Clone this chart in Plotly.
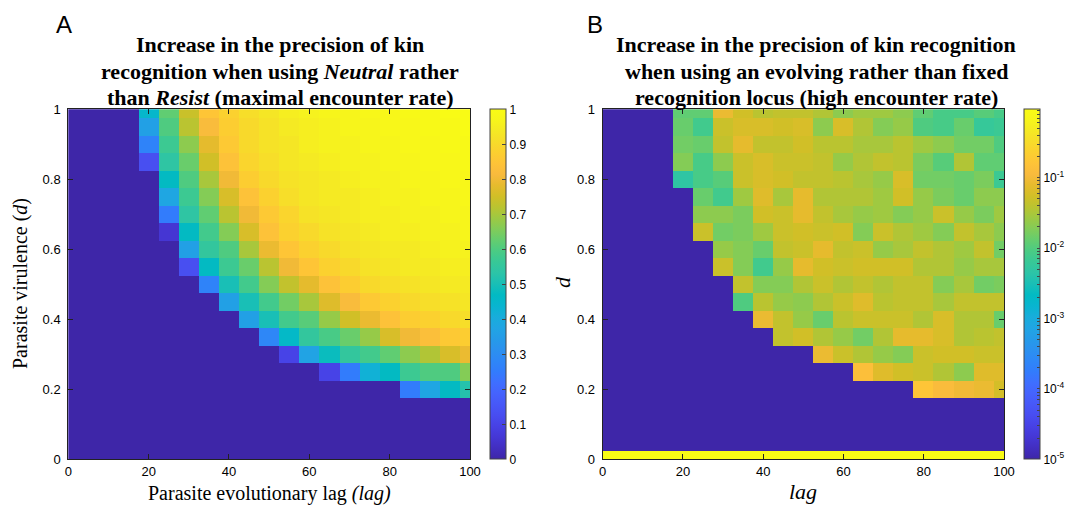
import math
import plotly.graph_objects as go

W, H = 1075, 510
OFF = 8  # page body margin of the browser (px)

# ---------------- data ----------------
LAG = [0, 5, 10, 15, 20, 25, 30, 35, 40, 45, 50, 55, 60, 65, 70, 75, 80, 85, 90, 95, 100]
D_TOP_DOWN = [1.0, 0.95, 0.9, 0.85, 0.8, 0.75, 0.7, 0.65, 0.6, 0.55, 0.5,
              0.45, 0.4, 0.35, 0.3, 0.25, 0.2, 0.15, 0.1, 0.05, 0.0]

# Panel A: increase in precision (Neutral vs Resist), rows from d=1 down to d=0, columns lag 0..100
A_rows = [
    [0, 0, 0, 0, 0.45, 0.62, 0.74, 0.85, 0.88, 0.91, 0.93, 0.95, 0.96, 0.97, 0.97, 0.98, 0.98, 0.99, 0.99, 1.00, 1.00],
    [0, 0, 0, 0, 0.36, 0.60, 0.72, 0.82, 0.87, 0.90, 0.92, 0.94, 0.95, 0.96, 0.97, 0.97, 0.98, 0.98, 0.99, 0.99, 1.00],
    [0, 0, 0, 0, 0.27, 0.57, 0.67, 0.78, 0.86, 0.90, 0.92, 0.93, 0.95, 0.96, 0.96, 0.97, 0.97, 0.98, 0.98, 0.99, 0.99],
    [0, 0, 0, 0, 0.13, 0.54, 0.63, 0.75, 0.84, 0.89, 0.91, 0.93, 0.94, 0.95, 0.96, 0.96, 0.97, 0.97, 0.98, 0.98, 0.99],
    [0, 0, 0, 0, 0, 0.47, 0.60, 0.70, 0.80, 0.87, 0.90, 0.92, 0.93, 0.94, 0.95, 0.96, 0.96, 0.97, 0.97, 0.98, 0.98],
    [0, 0, 0, 0, 0, 0.38, 0.57, 0.66, 0.76, 0.84, 0.88, 0.91, 0.93, 0.94, 0.94, 0.95, 0.96, 0.96, 0.97, 0.97, 0.98],
    [0, 0, 0, 0, 0, 0.25, 0.54, 0.62, 0.72, 0.80, 0.86, 0.89, 0.92, 0.93, 0.94, 0.95, 0.95, 0.96, 0.96, 0.97, 0.97],
    [0, 0, 0, 0, 0, 0.06, 0.47, 0.58, 0.66, 0.76, 0.84, 0.88, 0.90, 0.92, 0.93, 0.94, 0.95, 0.95, 0.96, 0.96, 0.97],
    [0, 0, 0, 0, 0, 0, 0.36, 0.55, 0.60, 0.70, 0.79, 0.85, 0.88, 0.90, 0.92, 0.93, 0.94, 0.94, 0.95, 0.96, 0.96],
    [0, 0, 0, 0, 0, 0, 0.13, 0.47, 0.57, 0.63, 0.72, 0.80, 0.85, 0.88, 0.90, 0.92, 0.93, 0.94, 0.94, 0.95, 0.95],
    [0, 0, 0, 0, 0, 0, 0, 0.27, 0.50, 0.58, 0.66, 0.73, 0.78, 0.84, 0.87, 0.90, 0.91, 0.92, 0.93, 0.94, 0.94],
    [0, 0, 0, 0, 0, 0, 0, 0, 0.36, 0.50, 0.58, 0.64, 0.70, 0.77, 0.82, 0.86, 0.88, 0.90, 0.91, 0.92, 0.93],
    [0, 0, 0, 0, 0, 0, 0, 0, 0, 0.36, 0.50, 0.58, 0.61, 0.68, 0.75, 0.79, 0.84, 0.87, 0.88, 0.90, 0.91],
    [0, 0, 0, 0, 0, 0, 0, 0, 0, 0, 0.28, 0.46, 0.55, 0.59, 0.63, 0.68, 0.76, 0.80, 0.83, 0.86, 0.87],
    [0, 0, 0, 0, 0, 0, 0, 0, 0, 0, 0, 0.10, 0.37, 0.48, 0.55, 0.58, 0.62, 0.67, 0.71, 0.76, 0.79],
    [0, 0, 0, 0, 0, 0, 0, 0, 0, 0, 0, 0, 0, 0.10, 0.25, 0.42, 0.47, 0.57, 0.60, 0.60, 0.66],
    [0, 0, 0, 0, 0, 0, 0, 0, 0, 0, 0, 0, 0, 0, 0, 0, 0, 0.25, 0.38, 0.47, 0.52],
    [0] * 21,
    [0] * 21,
    [0] * 21,
    [0] * 21,
]

# Panel B: log10 of increase in precision (evolving vs fixed locus), rows d=1 -> d=0
N = -5.0  # floor of colour scale (1e-5)
B_log10_rows = [
    [N, N, N, N, -1.92, -1.92, -1.07, -1.27, -1.42, -1.37, -1.37, -1.47, -1.67, -1.57, -1.57, -1.67, -1.92, -2.07, -2.07, -1.97, -2.07],
    [N, N, N, N, -1.87, -2.12, -1.32, -1.22, -1.22, -1.27, -1.22, -1.67, -1.22, -1.47, -1.72, -1.62, -2.02, -2.07, -1.87, -2.22, -2.17],
    [N, N, N, N, -1.82, -1.87, -1.37, -1.12, -1.37, -1.37, -1.27, -1.42, -1.42, -1.52, -1.52, -1.42, -1.57, -1.67, -1.82, -1.82, -2.02],
    [N, N, N, N, -1.72, -2.07, -1.67, -1.32, -1.22, -1.32, -1.32, -1.37, -1.62, -1.47, -1.37, -1.42, -1.77, -1.97, -1.47, -1.92, -1.92],
    [N, N, N, N, -2.32, -2.07, -1.97, -1.32, -1.22, -1.27, -1.37, -1.37, -1.42, -1.52, -1.62, -1.22, -1.82, -1.82, -1.87, -1.77, -2.17],
    [N, N, N, N, N, -1.87, -2.12, -1.57, -1.17, -1.52, -1.12, -1.47, -1.47, -1.47, -1.57, -1.27, -1.62, -1.77, -1.87, -1.67, -1.67],
    [N, N, N, N, N, -1.67, -1.67, -1.77, -1.27, -1.32, -1.12, -1.37, -1.52, -1.62, -1.57, -1.72, -1.62, -1.32, -1.62, -1.77, -1.57],
    [N, N, N, N, N, -1.32, -1.82, -1.77, -1.57, -1.32, -1.27, -1.32, -1.27, -1.72, -1.32, -1.47, -1.57, -1.72, -1.37, -1.52, -1.67],
    [N, N, N, N, N, N, -1.62, -1.72, -1.87, -1.37, -1.32, -1.12, -1.37, -1.32, -1.62, -1.52, -1.37, -1.47, -1.57, -1.37, -1.82],
    [N, N, N, N, N, N, -1.32, -1.72, -2.12, -1.62, -1.12, -1.27, -1.32, -1.27, -1.27, -1.27, -1.47, -1.47, -1.62, -1.52, -1.52],
    [N, N, N, N, N, N, N, -1.37, -1.72, -1.72, -1.47, -1.32, -1.47, -1.37, -1.47, -1.37, -1.37, -1.72, -1.52, -1.82, -1.77],
    [N, N, N, N, N, N, N, -2.02, -1.42, -1.62, -1.67, -1.47, -1.32, -1.17, -1.42, -1.37, -1.37, -1.52, -1.37, -1.37, -1.37],
    [N, N, N, N, N, N, N, N, -1.07, -1.37, -1.62, -1.87, -1.42, -1.32, -1.32, -1.32, -1.47, -1.22, -1.47, -1.47, -1.87],
    [N, N, N, N, N, N, N, N, N, -1.37, -1.27, -1.47, -1.62, -1.82, -1.47, -1.12, -1.12, -1.22, -1.47, -1.42, -1.37],
    [N, N, N, N, N, N, N, N, N, N, N, -1.07, -1.32, -1.47, -1.62, -1.72, -1.32, -1.27, -1.27, -1.32, -1.32],
    [N, N, N, N, N, N, N, N, N, N, N, N, N, -0.87, -1.17, -1.27, -1.32, -1.47, -1.67, -1.17, -1.17],
    [N, N, N, N, N, N, N, N, N, N, N, N, N, N, N, N, -0.78, -0.92, -1.02, -1.07, -1.25],
    [N] * 21,
    [N] * 21,
    [N] * 21,
    [-0.03] * 21,
]

A_CBAR_TICKS = [0, 0.1, 0.2, 0.3, 0.4, 0.5, 0.6, 0.7, 0.8, 0.9, 1]
B_CBAR_EXPONENTS = [-5, -4, -3, -2, -1]

TITLE_A = ["Increase in the precision of kin",
           "recognition when using <i>Neutral</i> rather",
           "than <i>Resist</i> (maximal encounter rate)"]
TITLE_B = ["Increase in the precision of kin recognition",
           "when using an evolving rather than fixed",
           "recognition locus (high encounter rate)"]

# ---------------- style ----------------
PARULA = [
    [0.2422, 0.1504, 0.6603], [0.2578, 0.1818, 0.7511], [0.2706, 0.2147, 0.8364],
    [0.2783, 0.2559, 0.8991], [0.2813, 0.3006, 0.9414], [0.2795, 0.3447, 0.9717],
    [0.2699, 0.3892, 0.9906], [0.2440, 0.4358, 0.9988], [0.1963, 0.4847, 0.9892],
    [0.1786, 0.5289, 0.9682], [0.1687, 0.5703, 0.9359], [0.1460, 0.6091, 0.9079],
    [0.1248, 0.6459, 0.8883], [0.0952, 0.6798, 0.8598], [0.0297, 0.7082, 0.8163],
    [0.0067, 0.7312, 0.7660], [0.0964, 0.7500, 0.7120], [0.1717, 0.7670, 0.6554],
    [0.2161, 0.7843, 0.5923], [0.2906, 0.7973, 0.5188], [0.3909, 0.8029, 0.4354],
    [0.5044, 0.7993, 0.3480], [0.6174, 0.7876, 0.2612], [0.7242, 0.7698, 0.1910],
    [0.8203, 0.7498, 0.1535], [0.9035, 0.7330, 0.1774], [0.9728, 0.7298, 0.2394],
    [0.9970, 0.7659, 0.2199], [0.9892, 0.8136, 0.1885], [0.9676, 0.8639, 0.1643],
    [0.9597, 0.9135, 0.1423], [0.9691, 0.9606, 0.1064], [0.9769, 0.9839, 0.0805],
]
n = len(PARULA)
colorscale = [[i / (n - 1), "rgb(%d,%d,%d)" % tuple(round(c * 255) for c in rgb)]
              for i, rgb in enumerate(PARULA)]

SANS = "Liberation Sans, Arial, sans-serif"
SERIF = "Liberation Serif, Times New Roman, serif"

x_lag = LAG
y_d = D_TOP_DOWN[::-1]
zA = A_rows[::-1]
zB = B_log10_rows[::-1]


def px_x(p):
    return (p - OFF) / W


def px_y(p):
    return 1 - (p - OFF) / H


plot_top, plot_bot = 109.3, 459.3
cb_len = (plot_bot - plot_top) / H
cb_y = px_y((plot_top + plot_bot) / 2)

# log colour bar ticks (major + minor)
b_tickvals, b_ticktext = [], []
for e in B_CBAR_EXPONENTS + [0]:
    for k in range(1, 10):
        v = e + math.log10(k)
        if v > -0.03 + 1e-9 or v < -5 - 1e-9:
            continue
        b_tickvals.append(v)
        b_ticktext.append("10<sup>%d</sup>" % e if k == 1 else "")

cb_common = dict(xanchor="left", y=cb_y, yanchor="middle", xpad=0, ypad=0,
                 len=cb_len, lenmode="fraction", thickness=16, thicknessmode="pixels",
                 outlinewidth=1, outlinecolor="#444", ticks="inside",
                 tickcolor="#444", tickfont=dict(family=SANS, size=12, color="black"))

fig = go.Figure()
fig.add_trace(go.Heatmap(
    x=x_lag, y=y_d, z=zA, colorscale=colorscale, zmin=0, zmax=1,
    xaxis="x", yaxis="y", hoverinfo="skip",
    colorbar=dict(x=px_x(490), ticklen=4, tickvals=A_CBAR_TICKS,
                  ticktext=[("%g" % v) for v in A_CBAR_TICKS], **cb_common),
))
fig.add_trace(go.Heatmap(
    x=x_lag, y=y_d, z=zB, colorscale=colorscale, zmin=-5, zmax=-0.03,
    xaxis="x2", yaxis="y2", hoverinfo="skip",
    colorbar=dict(x=px_x(1024), ticklen=3, tickvals=b_tickvals, ticktext=b_ticktext,
                  **cb_common),
))

axis_common = dict(showgrid=False, zeroline=False, showline=True, linecolor="#222",
                   linewidth=1, mirror="allticks", ticks="inside", ticklen=5,
                   tickcolor="#222", tickfont=dict(family=SANS, size=13, color="black"),
                   automargin=False)

fig.update_layout(
    width=W, height=H, autosize=False,
    margin=dict(l=0, r=0, t=0, b=0, autoexpand=False),
    paper_bgcolor="white", plot_bgcolor="white",
    xaxis=dict(domain=[px_x(68.3), px_x(470)], range=[0, 100], tickvals=[0, 20, 40, 60, 80, 100],
               anchor="y", **axis_common),
    yaxis=dict(domain=[px_y(plot_bot), px_y(plot_top)], range=[0, 1],
               tickvals=[0, 0.2, 0.4, 0.6, 0.8, 1], ticktext=["0", "0.2", "0.4", "0.6", "0.8", "1"],
               anchor="x", ticklabelstandoff=4, **axis_common),
    xaxis2=dict(domain=[px_x(602.7), px_x(1004)], range=[0, 100], tickvals=[0, 20, 40, 60, 80, 100],
                anchor="y2", **axis_common),
    yaxis2=dict(domain=[px_y(plot_bot), px_y(plot_top)], range=[0, 1],
                tickvals=[0, 0.2, 0.4, 0.6, 0.8, 1], ticktext=["0", "0.2", "0.4", "0.6", "0.8", "1"],
                anchor="x2", ticklabelstandoff=4, **axis_common),
)

ann = []


def add_text(text, x, y, size, family, angle=0, weight="normal"):
    ann.append(dict(text=text, x=px_x(x), y=px_y(y), xref="paper", yref="paper",
                    xanchor="center", yanchor="middle", showarrow=False, textangle=angle,
                    font=dict(family=family, size=size, color="black", weight=weight)))


add_text("A", 64, 25, 24, SANS)
add_text("B", 595, 25, 24, SANS)
line_y = [45, 71, 97]
for txt, yy in zip(TITLE_A, line_y):
    add_text(txt, 280, yy, 22, SERIF, weight="bold")
for txt, yy in zip(TITLE_B, line_y):
    add_text(txt, 816, yy, 22, SERIF, weight="bold")
add_text("Parasite evolutionary lag <i>(lag)</i>", 269, 493, 20, SERIF)
add_text("Parasite virulence (<i>d</i>)", 20, 284, 20, SERIF, angle=-90)
add_text("<i>lag</i>", 803, 491, 22, SERIF)
add_text("<i>d</i>", 562, 282, 22, SERIF, angle=-90)
fig.update_layout(annotations=ann)

fig.write_html("out.html")
